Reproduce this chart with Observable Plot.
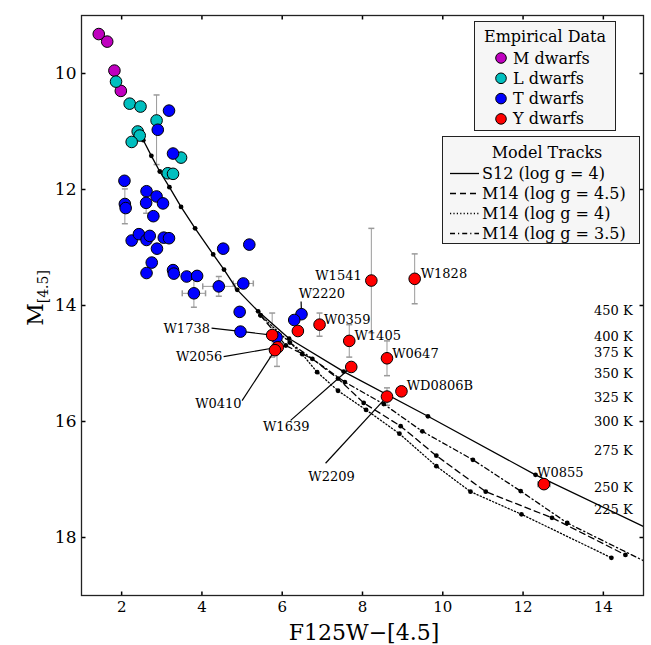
<!DOCTYPE html>
<html><head><meta charset="utf-8">
<script src="https://cdn.jsdelivr.net/npm/d3@7"></script>
<script src="https://cdn.jsdelivr.net/npm/@observablehq/plot@0.6"></script>
<style>body{margin:0;background:#fff} svg{font-family:"DejaVu Serif",serif}</style>
</head><body><div id="chart"></div>
<script>
// ---------- data ----------
const xTicks = [2, 4, 6, 8, 10, 12, 14];
const yTicks = [10, 12, 14, 16, 18];

const mDwarfs = [[1.43, 9.32], [1.64, 9.45], [1.82, 9.95], [1.98, 10.30]];
const lDwarfs = [[1.86, 10.14], [2.20, 10.52], [2.47, 10.57], [2.87, 10.81], [2.40, 11.00],
  [2.45, 11.07], [2.25, 11.18], [3.48, 11.45], [3.15, 11.72], [3.28, 11.73]];
const tDwarfs = [[3.18, 10.64], [2.90, 10.97], [3.28, 11.38], [2.07, 11.85], [2.62, 12.03],
  [2.87, 12.12], [2.08, 12.25], [2.10, 12.32], [2.61, 12.23], [3.03, 12.24], [2.79, 12.46],
  [2.25, 12.88], [2.43, 12.77], [2.62, 12.87], [2.70, 12.80], [2.88, 13.02], [3.05, 12.83],
  [3.18, 12.84], [4.53, 13.02], [5.18, 12.95], [2.75, 13.26], [2.62, 13.44], [3.28, 13.39],
  [3.30, 13.45], [3.62, 13.50], [3.88, 13.49], [3.80, 13.79], [4.42, 13.67], [5.03, 13.62],
  [4.94, 14.11], [4.96, 14.45], [5.86, 14.55], [6.48, 14.15], [6.30, 14.25]];
const yNames = ["W1738", "W2056", "W0410", "W2220", "W0359", "W1405", "W1639", "W1541",
  "W1828", "W0647", "W2209", "WD0806B", "W0855"];
const yX = [5.75, 5.89, 5.82, 6.39, 6.93, 7.67, 7.72, 8.22, 9.30, 8.61, 8.61, 8.97, 12.52];
const yY = [14.51, 14.72, 14.77, 14.44, 14.33, 14.61, 15.06, 13.57, 13.54, 14.91, 15.57, 15.48, 17.08];

// error bars: [x, y, xErr, yErr]
const errorBars = [[2.87, 10.97, 0, 0.60], [2.08, 12.29, 0, 0.30], [2.61, 12.23, 0, 0.18],
  [3.80, 13.79, 0.29, 0.24], [4.42, 13.67, 0.40, 0.17], [5.03, 13.62, 0.25, 0],
  [5.75, 14.51, 0, 0.38], [5.87, 14.80, 0, 0.25], [6.93, 14.33, 0, 0.20],
  [7.67, 14.61, 0, 0.28], [8.22, 13.57, 0, 0.90], [9.30, 13.54, 0, 0.43],
  [8.61, 14.91, 0, 0.30], [8.61, 15.57, 0, 0.15], [12.52, 17.08, 0.15, 0.05]];

// model tracks
const s12 = [[2.54, 11.15], [2.74, 11.42], [2.95, 11.69], [3.19, 11.96], [3.48, 12.30],
  [3.83, 12.67], [4.28, 13.12], [4.55, 13.38], [4.88, 13.73], [5.40, 14.10], [6.17, 14.57],
  [7.53, 15.14], [9.63, 15.91], [12.31, 16.92], [15.0, 17.81]];
const m14g45 = [[5.46, 14.17], [6.09, 14.69], [6.75, 14.92], [7.39, 15.26], [8.03, 15.68],
  [8.95, 16.08], [9.84, 16.59], [11.07, 17.21], [12.72, 17.66], [14.55, 18.30]];
const m14g4 = [[5.46, 14.17], [6.50, 14.84], [6.87, 15.15], [7.39, 15.47], [8.09, 15.80],
  [8.92, 16.21], [9.84, 16.77], [10.69, 17.21], [11.96, 17.60], [14.20, 18.35]];
const m14g35 = [[6.19, 14.64], [7.56, 15.32], [8.53, 15.70], [9.49, 16.17], [10.75, 16.66],
  [11.94, 17.20], [13.10, 17.75], [15.0, 18.40]];

const tempLabels = ["450 K", "400 K", "375 K", "350 K", "325 K", "300 K", "275 K", "250 K", "225 K"];
const tempY = [14.09, 14.54, 14.82, 15.18, 15.60, 16.00, 16.51, 17.14, 17.52];

const groupNames = ["M dwarfs", "L dwarfs", "T dwarfs", "Y dwarfs"];
const groupColors = ["#bf00bf", "#00bfbf", "#0000ff", "#ff0000"];
const trackNames = ["S12 (log g = 4)", "M14 (log g = 4.5)", "M14 (log g = 4)", "M14 (log g = 3.5)"];

// annotation layout (label anchor, text-anchor, optional leader start/end)
const labelLayout = {
  W1738: {lx: 4.20, ly: 14.40, a: "end", leader: [4.24, 14.39, 5.75, 14.51]},
  W2056: {lx: 4.51, ly: 14.89, a: "end", leader: [4.54, 14.88, 5.89, 14.72]},
  W0410: {lx: 4.41, ly: 15.70, a: "middle", leader: [5.00, 15.64, 5.82, 14.77]},
  W2220: {lx: 6.41, ly: 13.80, a: "start", leader: [6.47, 13.93, 6.48, 14.12]},
  W0359: {lx: 7.04, ly: 14.25, a: "start"},
  W1405: {lx: 7.80, ly: 14.53, a: "start"},
  W1639: {lx: 6.10, ly: 16.10, a: "middle", leader: [6.21, 15.98, 7.72, 15.06]},
  W1541: {lx: 7.98, ly: 13.49, a: "end"},
  W1828: {lx: 9.45, ly: 13.46, a: "start"},
  W0647: {lx: 8.74, ly: 14.83, a: "start"},
  W2209: {lx: 7.23, ly: 16.95, a: "middle", leader: [7.08, 16.72, 8.61, 15.57]},
  WD0806B: {lx: 9.10, ly: 15.39, a: "start"},
  W0855: {lx: 12.35, ly: 16.89, a: "start"}
};

// ---------- build ----------
const pts = [
  ...mDwarfs.map(([x, y]) => ({x, y, g: groupNames[0]})),
  ...lDwarfs.map(([x, y]) => ({x, y, g: groupNames[1]})),
  ...tDwarfs.map(([x, y]) => ({x, y, g: groupNames[2]})),
  ...yNames.map((n, i) => ({x: yX[i], y: yY[i], g: groupNames[3], name: n}))
];
const errs = errorBars.map(([x, y, xe, ye]) => ({x, y, xe, ye}));
const yErrs = errs.filter(d => d.ye > 0), xErrs = errs.filter(d => d.xe > 0);
const labels = yNames.map(n => ({name: n, ...labelLayout[n]}));
const leaders = labels.filter(d => d.leader).map(d => ({x1: d.leader[0], y1: d.leader[1], x2: d.leader[2], y2: d.leader[3]}));

const sym = (dx, dy) => ({draw(c) { c.moveTo(0, 0); c.lineTo(dx, dy); }});
const hcap = {draw(c) { c.moveTo(-3, 0); c.lineTo(3, 0); }};
const vcap = {draw(c) { c.moveTo(0, -3); c.lineTo(0, 3); }};
const X = d => d[0], Y = d => d[1];
const trackStyles = [
  {data: s12, dash: null},
  {data: m14g45, dash: "6,4"},
  {data: m14g4, dash: "1.2,2.2"},
  {data: m14g35, dash: "5,3,1.2,3"}
];

const chart = Plot.plot({
  width: 651, height: 645,
  marginLeft: 81, marginRight: 8, marginTop: 15, marginBottom: 50,
  x: {domain: [1, 15]},
  y: {domain: [9, 19], reverse: true},
  color: {domain: groupNames, range: groupColors},
  style: {fontFamily: '"DejaVu Serif", serif', fontSize: "15px", color: "black", background: "white"},
  marks: [
    Plot.axisX({ticks: xTicks, tickSize: 0, tickPadding: 6, label: null, fontSize: 15}),
    Plot.axisY({ticks: yTicks, tickSize: 0, tickPadding: 5, label: null, fontSize: 17}),
    // error bars
    Plot.link(yErrs, {x1: "x", x2: "x", y1: d => d.y - d.ye, y2: d => d.y + d.ye, stroke: "#9a9a9a"}),
    Plot.link(xErrs, {y1: "y", y2: "y", x1: d => d.x - d.xe, x2: d => d.x + d.xe, stroke: "#9a9a9a"}),
    Plot.dot(yErrs.flatMap(d => [{x: d.x, y: d.y - d.ye}, {x: d.x, y: d.y + d.ye}]), {x: "x", y: "y", symbol: hcap, stroke: "#9a9a9a", fill: "none"}),
    Plot.dot(xErrs.flatMap(d => [{x: d.x - d.xe, y: d.y}, {x: d.x + d.xe, y: d.y}]), {x: "x", y: "y", symbol: vcap, stroke: "#9a9a9a", fill: "none"}),
    // model tracks
    ...trackStyles.map(t => Plot.line(t.data, {x: X, y: Y, stroke: "black", strokeWidth: 1.3, strokeDasharray: t.dash, clip: true})),
    ...trackStyles.map(t => Plot.dot(t.data.filter(d => d[0] < 14.9), {x: X, y: Y, r: 2.4, fill: "black", clip: true})),
    // leaders
    Plot.link(leaders, {x1: "x1", y1: "y1", x2: "x2", y2: "y2", stroke: "black", strokeWidth: 1.2}),
    // empirical data
    Plot.dot(pts, {x: "x", y: "y", r: 5.8, fill: "g", stroke: "black", strokeWidth: 1}),
    // labels
    ...["start", "middle", "end"].map(a => Plot.text(labels.filter(d => d.a === a), {x: "lx", y: "ly", text: "name", textAnchor: a, fontSize: 13, fill: "black"})),
    Plot.text(tempLabels, {x: () => 14.73, y: (d, i) => tempY[i], text: d => d, textAnchor: "end", fontSize: 13, fill: "black"}),
    // inward ticks
    Plot.dot(xTicks, {x: d => d, frameAnchor: "bottom", symbol: sym(0, -4), stroke: "black", fill: "none"}),
    Plot.dot(xTicks, {x: d => d, frameAnchor: "top", symbol: sym(0, 4), stroke: "black", fill: "none"}),
    Plot.dot(yTicks, {y: d => d, frameAnchor: "left", symbol: sym(4, 0), stroke: "black", fill: "none"}),
    Plot.dot(yTicks, {y: d => d, frameAnchor: "right", symbol: sym(-4, 0), stroke: "black", fill: "none"}),
    Plot.frame({stroke: "#222", strokeWidth: 1.3})
  ]
});
document.getElementById("chart").append(chart);

// ---------- axis titles & legends ----------
const svg = d3.select(chart);
svg.append("text").attr("x", 364).attr("y", 640).attr("text-anchor", "middle")
  .attr("font-size", 22).attr("fill", "black").text("F125W\u2212[4.5]");
const yl = svg.append("text").attr("transform", "translate(43,298) rotate(-90)")
  .attr("text-anchor", "middle").attr("font-size", 22).attr("fill", "black");
yl.append("tspan").text("M");
yl.append("tspan").attr("font-size", 14).attr("dy", 5).text("[4.5]");

const lg = svg.append("g").attr("text-anchor", "start");
lg.append("rect").attr("x", 474.5).attr("y", 21.5).attr("width", 141).attr("height", 109)
  .attr("fill", "#f6f6f6").attr("stroke", "#222");
lg.append("text").attr("x", 545).attr("y", 36).attr("text-anchor", "middle")
  .attr("dominant-baseline", "central").attr("font-size", 16).text("Empirical Data");
groupNames.forEach((n, i) => {
  const yy = 58 + i * 20.3;
  lg.append("circle").attr("cx", 501).attr("cy", yy).attr("r", 5.3)
    .attr("fill", groupColors[i]).attr("stroke", "black");
  lg.append("text").attr("x", 513).attr("y", yy).attr("text-anchor", "start")
    .attr("dominant-baseline", "central").attr("font-size", 16).text(n);
});
const lt = svg.append("g").attr("text-anchor", "start");
lt.append("rect").attr("x", 442.5).attr("y", 136.5).attr("width", 197).attr("height", 107)
  .attr("fill", "#f6f6f6").attr("stroke", "#222");
lt.append("text").attr("x", 547).attr("y", 152).attr("text-anchor", "middle")
  .attr("dominant-baseline", "central").attr("font-size", 16).text("Model Tracks");
trackNames.forEach((n, i) => {
  const yy = 173.5 + i * 20;
  lt.append("line").attr("x1", 450).attr("x2", 479).attr("y1", yy).attr("y2", yy)
    .attr("stroke", "black").attr("stroke-width", 1.3)
    .attr("stroke-dasharray", trackStyles[i].dash);
  lt.append("text").attr("x", 482).attr("y", yy).attr("text-anchor", "start")
    .attr("dominant-baseline", "central").attr("font-size", 16).text(n);
});
</script>
</body></html>
